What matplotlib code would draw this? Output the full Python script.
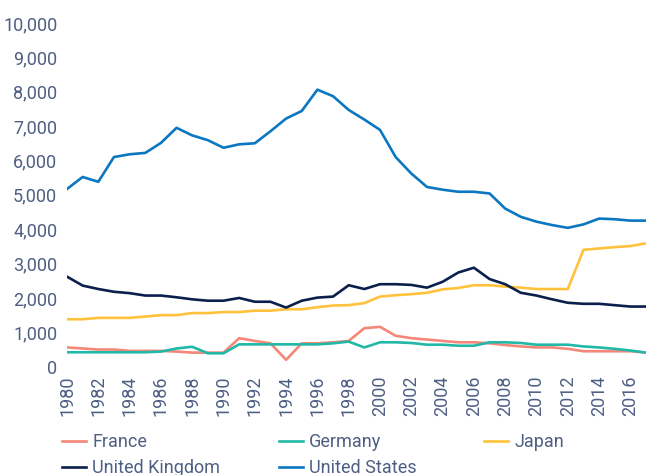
import matplotlib
matplotlib.use("Agg")
import matplotlib.pyplot as plt
from matplotlib.ticker import FuncFormatter

years = list(range(1980, 2018))

france = [560, 530, 500, 500, 460, 460, 460, 440, 410, 410, 410, 830, 750, 680, 200, 680, 680,
          710, 750, 1120, 1160, 900, 830, 790, 750, 710, 710, 680, 630, 590, 560, 560, 520,
          450, 450, 450, 450, 410]
germany = [420, 420, 420, 420, 420, 420, 440, 530, 580, 390, 390, 650, 650, 650, 650, 650, 650,
           680, 730, 560, 710, 710, 690, 640, 640, 610, 610, 710, 710, 690, 640, 640, 640,
           590, 560, 520, 470, 410]
japan = [1380, 1380, 1420, 1420, 1420, 1460, 1500, 1500, 1560, 1560, 1590, 1590, 1630, 1630,
         1670, 1670, 1730, 1780, 1790, 1850, 2040, 2080, 2110, 2150, 2250, 2290, 2370, 2370,
         2330, 2300, 2260, 2260, 2260, 3400, 3440, 3480, 3510, 3590]
uk = [2620, 2360, 2260, 2180, 2140, 2070, 2070, 2020, 1960, 1920, 1920, 2000, 1890, 1890, 1720,
      1920, 2010, 2040, 2370, 2260, 2400, 2400, 2380, 2300, 2470, 2740, 2880, 2550, 2400, 2150,
      2070, 1960, 1860, 1830, 1830, 1790, 1750, 1750]
us = [5170, 5520, 5380, 6100, 6180, 6220, 6510, 6950, 6730, 6590, 6370, 6470, 6500, 6850, 7220,
      7440, 8060, 7870, 7470, 7190, 6890, 6100, 5620, 5230, 5150, 5090, 5090, 5040, 4600, 4360,
      4220, 4120, 4040, 4140, 4310, 4290, 4250, 4250]

names = ["France", "Germany", "Japan", "United Kingdom", "United States"]
colors = ["#F4877A", "#22B8A7", "#FFC23A", "#0B1F4D", "#0A77C0"]
data = [france, germany, japan, uk, us]

text_color = "#4E5F84"
plt.rcParams['font.family'] = ['Roboto', 'DejaVu Sans']

fig = plt.figure(figsize=(6.48, 4.75), dpi=100)
ax = fig.add_axes([0.1034, 0.228, 0.8936, 0.7236])

handles = {}
for name, vals, col in zip(names, data, colors):
    ln, = ax.plot(years, vals, color=col, lw=1.9, label=name)
    handles[name] = ln

ax.set_xlim(1980, 2017)
ax.set_ylim(0, 10000)
ax.set_yticks(range(0, 10001, 1000))
ax.yaxis.set_major_formatter(FuncFormatter(lambda v, p: f"{int(v):,}"))
ax.set_xticks(range(1980, 2017, 2))
ax.set_xticklabels([str(y) for y in range(1980, 2017, 2)], rotation=90)
for s in ax.spines.values():
    s.set_visible(False)
ax.tick_params(axis='both', length=0, labelsize=13, labelcolor=text_color)
ax.tick_params(axis='y', pad=7)
ax.tick_params(axis='x', pad=6)

# legend laid out in three columns, row-major
columns = [["France", "United Kingdom"], ["Germany", "United States"], ["Japan"]]
col_x = [62 / 648, 279 / 648, 484 / 648]
for cx, cols in zip(col_x, columns):
    leg = fig.legend([handles[n] for n in cols], cols, loc='upper left',
                     bbox_to_anchor=(cx, 1 - 433 / 475), frameon=False, fontsize=13,
                     handlelength=1.33, handletextpad=0.35, labelspacing=0.44,
                     borderpad=0.0, borderaxespad=0.0)
    for t in leg.get_texts():
        t.set_color(text_color)

fig.savefig("out.png", dpi=100)
